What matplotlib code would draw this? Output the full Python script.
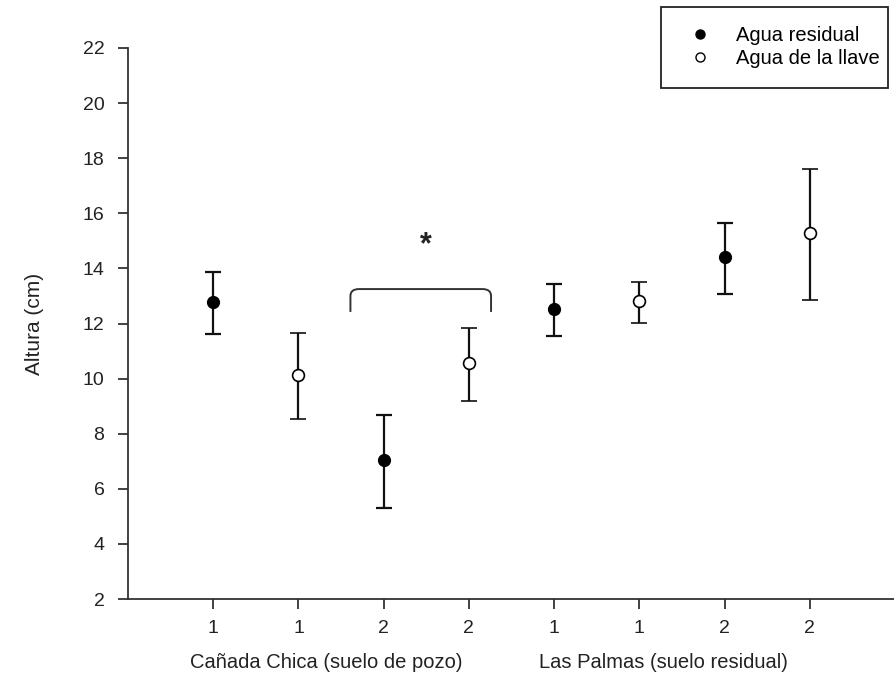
import matplotlib
matplotlib.use("Agg")
import matplotlib.pyplot as plt
from matplotlib.path import Path
from matplotlib.patches import PathPatch, Rectangle
from matplotlib.lines import Line2D
import numpy as np

plt.rcParams['font.family'] = ['Liberation Sans', 'DejaVu Sans']

tick_labels = ['1', '1', '2', '2', '1', '1', '2', '2']
residual_x = [1, 3, 5, 7]
residual_mean = [12.78, 7.03, 12.53, 14.40]
residual_upper = [13.88, 8.67, 13.42, 15.66]
residual_lower = [11.62, 5.30, 11.56, 13.08]
tap_x = [2, 4, 6, 8]
tap_mean = [10.12, 10.55, 12.80, 15.28]
tap_upper = [11.65, 11.85, 13.50, 17.62]
tap_lower = [8.55, 9.20, 12.02, 12.85]
group_labels = ['Cañada Chica (suelo de pozo)', 'Las Palmas (suelo residual)']
series_labels = ['Agua residual', 'Agua de la llave']

fig = plt.figure(figsize=(8.95, 6.78), dpi=100)
ax = fig.add_axes([128/895, 1-599/678, 1-128/895, (599-48)/678])

def err(m, u, l):
    m = np.array(m); return [m - np.array(l), np.array(u) - m]

ax.errorbar(residual_x, residual_mean, yerr=err(residual_mean, residual_upper, residual_lower),
            fmt='o', color='#111111', mfc='black', mec='black', ms=8.5, elinewidth=1.6,
            capsize=6, capthick=1.6, zorder=3)
ax.errorbar(tap_x, tap_mean, yerr=err(tap_mean, tap_upper, tap_lower),
            fmt='o', color='#111111', mfc='white', mec='black', ms=8.5, mew=1.2, elinewidth=1.6,
            capsize=6, capthick=1.6, zorder=3)

ax.set_xlim(0, 9)
ax.set_ylim(2, 22)
ax.set_yticks(np.arange(2, 23, 2))
ax.set_xticks(range(1, 9))
ax.set_xticklabels(tick_labels)
for s in ['top', 'right']:
    ax.spines[s].set_visible(False)
for s in ['left', 'bottom']:
    ax.spines[s].set_linewidth(1.3)
    ax.spines[s].set_color('#333333')
ax.tick_params(direction='out', length=7, width=1.3, labelsize=14, colors='#333333', labelcolor='#222222')
ax.tick_params(axis='y', pad=10)
ax.tick_params(axis='x', pad=8)
ax.set_ylabel('Altura (cm)', fontsize=15, labelpad=28, color='#222222')

ax.text(2.33, -0.115, group_labels[0], transform=ax.get_xaxis_transform(),
        ha='center', va='center', fontsize=14.5, color='#222222')
ax.text(6.28, -0.115, group_labels[1], transform=ax.get_xaxis_transform(),
        ha='center', va='center', fontsize=14.5, color='#222222')

# significance bracket
x0, x1, yb, yt = 2.61, 4.26, 12.42, 13.25
r = 0.1
verts = [(x0, yb), (x0, yt - 0.25), (x0, yt), (x0 + r, yt), (x1 - r, yt), (x1, yt), (x1, yt - 0.25), (x1, yb)]
codes = [Path.MOVETO, Path.LINETO, Path.CURVE3, Path.CURVE3, Path.LINETO, Path.CURVE3, Path.CURVE3, Path.LINETO]
ax.add_patch(PathPatch(Path(verts, codes), fill=False, lw=1.4, edgecolor='#333333'))
ax.text(3.49, 14.85, '*', ha='center', va='center', fontsize=22, fontweight='bold', color='#222222')

# legend frame
fig.patches.append(Rectangle((661/895, 1-88/678), (888-661)/895, (88-7)/678,
                             transform=fig.transFigure, fill=True, facecolor='white',
                             edgecolor='#222222', lw=1.3, zorder=1))
handles = [Line2D([], [], ls='none', marker='o', ms=6.5, mfc='black', mec='black'),
           Line2D([], [], ls='none', marker='o', ms=6.5, mfc='white', mec='black', mew=1.0)]
leg = fig.legend(handles, series_labels, loc='upper left', bbox_to_anchor=(680/895, 1-26/678),
                 fontsize=14.5, frameon=False, handletextpad=0.8, borderpad=0,
                 labelspacing=0.2, handlelength=2.0, borderaxespad=0)
leg.set_zorder(5)

fig.savefig('out.png', dpi=100)
